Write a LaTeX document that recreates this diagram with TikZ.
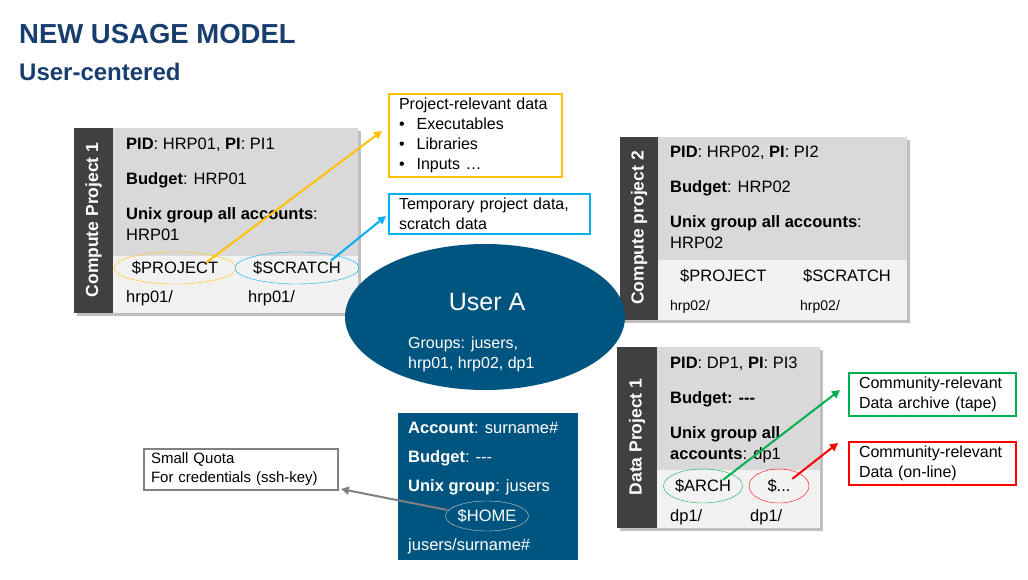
\documentclass[tikz,border=0pt]{standalone}
\usepackage{fontspec}
\setmainfont{Liberation Sans}
\usetikzlibrary{shadows,arrows.meta,shapes.geometric}
\definecolor{titleblue}{RGB}{23,62,110}
\definecolor{userblue}{RGB}{0,85,128}
\definecolor{sidegray}{RGB}{64,64,64}
\definecolor{topgray}{RGB}{217,217,217}
\definecolor{lowgray}{RGB}{242,242,242}
\definecolor{projorange}{RGB}{255,192,0}
\definecolor{scratchblue}{RGB}{0,176,240}
\definecolor{archgreen}{RGB}{0,176,80}
\definecolor{onred}{RGB}{255,0,0}
\tikzset{
  body/.style={anchor=west, font=\fontsize{16.5}{19}\selectfont, inner sep=0pt},
  note/.style={draw, line width=2pt, fill=white, align=left, anchor=north west,
    font=\fontsize{16}{20}\selectfont, inner xsep=10pt, inner ysep=4pt},
  side/.style={rotate=90, text=white, font=\bfseries\fontsize{17.5}{20}\selectfont},
  varell/.style={ellipse, draw, minimum height=32pt, inner sep=0pt, font=\fontsize{16.5}{19}\selectfont},
  link/.style={-{Triangle[length=8pt,width=8pt]}, line width=2pt}
}
\begin{document}
\begin{tikzpicture}[x=1pt,y=-1pt]
  \useasboundingbox (0,0) rectangle (1028,580);

  % Title
  \node[anchor=west, inner sep=0pt, text=titleblue, font=\bfseries\fontsize{27.5}{30}\selectfont] (title) at (19,34) {NEW USAGE MODEL};
  \node[anchor=west, inner sep=0pt, text=titleblue, font=\bfseries\fontsize{24}{28}\selectfont] (subtitle) at (19,72) {User-centered};

  % Compute project 1
  \fill[lowgray, drop shadow] (74,128) rectangle (358,313);
  \fill[topgray] (113,128) rectangle (358,256);
  \fill[sidegray] (74,128) rectangle (113,313);
  \node[side] (cp1) at (93.5,220) {Compute Project 1};
  \node[body] (pid1) at (126,145) {\textbf{PID}: HRP01, \textbf{PI}: PI1};
  \node[body] (bud1) at (126,180) {\textbf{Budget}: HRP01};
  \node[body] (unix1) at (126,215) {\textbf{Unix group all accounts}:};
  \node[body] (grp1) at (126,235) {HRP01};
  \node[varell, draw=projorange, minimum width=116pt] (proj1) at (175,268) {\$PROJECT};
  \node[varell, draw=scratchblue, minimum width=114pt] (scr1) at (297,268) {\$SCRATCH};
  \node[body] (dir1a) at (126,298) {hrp01/};
  \node[body] (dir1b) at (248,298) {hrp01/};

  % Notes for project 1
  \node[note, draw=projorange, text width=153pt] (pnote) at (388,93) {Project-relevant data\\
    \textbullet\hspace{12pt}Executables\\ \textbullet\hspace{12pt}Libraries\\ \textbullet\hspace{12pt}Inputs \dots};
  \node[note, draw=scratchblue, text width=181pt] (snote) at (388,193) {Temporary project data,\\ scratch data};
  \coordinate (pend) at (382,131);
  \coordinate (send) at (386,216);
  \draw[link, draw=projorange] (proj1.north east) ++(-12,6) -- (pend);
  \draw[link, draw=scratchblue] (scr1.north east) ++(-10,4) -- (send);

  % Compute project 2
  \fill[lowgray, drop shadow] (620,137) rectangle (907,320);
  \fill[topgray] (658,137) rectangle (907,260);
  \fill[sidegray] (620,137) rectangle (658,320);
  \node[side] (cp2) at (639,228) {Compute project 2};
  \node[body] (pid2) at (670,153) {\textbf{PID}: HRP02, \textbf{PI}: PI2};
  \node[body] (bud2) at (670,188) {\textbf{Budget}: HRP02};
  \node[body] (unix2) at (670,223) {\textbf{Unix group all accounts}:};
  \node[body] (grp2) at (670,243) {HRP02};
  \node[body] (proj2) at (680,276) {\$PROJECT};
  \node[body] (scr2) at (803,276) {\$SCRATCH};
  \node[body, font=\fontsize{14}{16}\selectfont] (dir2a) at (670,307) {hrp02/};
  \node[body, font=\fontsize{14}{16}\selectfont] (dir2b) at (800,307) {hrp02/};

  % Data project 1
  \fill[lowgray, drop shadow] (617,347) rectangle (820,528);
  \fill[topgray] (657,347) rectangle (820,470);
  \fill[sidegray] (617,347) rectangle (657,528);
  \node[side] (dp) at (637,437) {Data Project 1};
  \node[body] (pid3) at (670,364) {\textbf{PID}: DP1, \textbf{PI}: PI3};
  \node[body] (bud3) at (670,399) {\textbf{Budget: -{}-{}-}};
  \node[body] (unix3) at (670,434) {\textbf{Unix group all}};
  \node[body] (grp3) at (670,455) {\textbf{accounts}: dp1};
  \node[varell, draw=archgreen, minimum width=70pt, minimum height=34pt] (arch) at (703,486) {\$ARCH};
  \node[varell, draw=onred, minimum width=60pt, minimum height=34pt] (other) at (779,486) {\$...};
  \node[body] (dir3a) at (670,517) {dp1/};
  \node[body] (dir3b) at (750,517) {dp1/};
  \node[note, draw=archgreen, text width=147pt] (anote) at (848,372) {Community-relevant\\ Data archive (tape)};
  \node[note, draw=onred, text width=147pt] (onote) at (848,441) {Community-relevant\\ Data (on-line)};
  \coordinate (aend) at (840,390);
  \coordinate (oend) at (838,443);
  \draw[link, draw=archgreen] (arch.north east) ++(-8,6) -- (aend);
  \draw[link, draw=onred] (other.north east) ++(-8,5) -- (oend);

  % User A
  \node[ellipse, fill=userblue, minimum width=280pt, minimum height=146pt] (user) at (485,317) {};
  \node[text=white, font=\fontsize{25}{28}\selectfont] (uname) at (487,302) {User A};
  \node[body, text=white, align=left, anchor=north west, font=\fontsize{16}{20}\selectfont] (groups) at (408,337) {Groups: jusers,\\ hrp01, hrp02, dp1};

  % Account box
  \fill[userblue] (398,413) rectangle (578,560);
  \node[body, text=white] (acc) at (408,428) {\textbf{Account}: surname\#};
  \node[body, text=white] (bud4) at (408,458) {\textbf{Budget}: -{}-{}-};
  \node[body, text=white] (unix4) at (408,487) {\textbf{Unix group}: jusers};
  \node[varell, draw=white!80!black, text=white, minimum width=68pt, minimum height=30pt] (home) at (487,516) {\$HOME};
  \node[body, text=white] (hdir) at (408,546) {jusers/surname\#};
  \node[note, draw=gray, text width=180pt, inner xsep=7pt, font=\fontsize{15}{19}\selectfont] (qnote) at (143,448) {Small Quota\\ For credentials (ssh-key)};
  \coordinate (qend) at (341,489);
  \draw[link, draw=gray] (home.west) ++(2,-6) -- (qend);
\end{tikzpicture}
\end{document}
